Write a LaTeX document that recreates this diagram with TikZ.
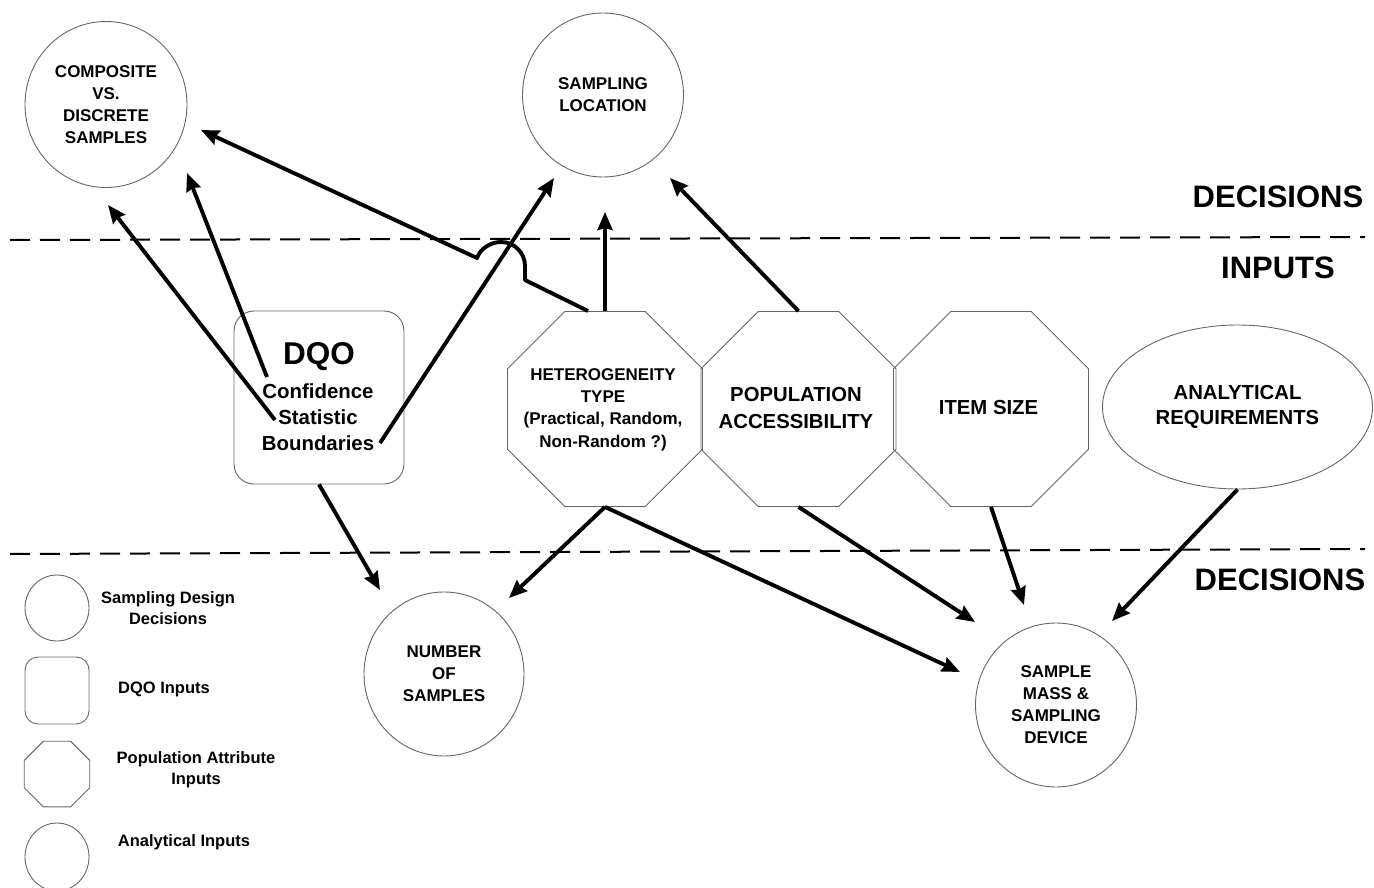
\documentclass[tikz,border=0pt]{standalone}
\usepackage{fontspec}
\setmainfont{Liberation Sans}
\usetikzlibrary{shapes.geometric,arrows.meta}
\begin{document}
\begin{tikzpicture}[x=1pt,y=-1pt,
  outl/.style={draw=black!60,line width=0.9pt},
  dec/.style={outl,ellipse,inner sep=0pt,align=center,font=\fontsize{17}{22}\selectfont\bfseries},
  inp/.style={outl,ellipse,inner sep=0pt,align=center,font=\fontsize{20.3}{25}\selectfont\bfseries},
  oct/.style={outl,regular polygon,regular polygon sides=8,inner sep=0pt,minimum size=211pt},
  octtxt/.style={align=center,inner sep=0pt},
  lgtxt/.style={align=center,inner sep=0pt,font=\fontsize{16.5}{21}\selectfont\bfseries},
  zone/.style={font=\fontsize{31}{34}\selectfont\bfseries,inner sep=0pt},
  arr/.style={-{Stealth[length=18pt,width=15pt,inset=2pt]},line width=3.9pt,line join=round},
  divider/.style={line width=2pt,dash pattern=on 20pt off 10pt}
]
\useasboundingbox (0,0) rectangle (1374,888);
\clip (0,0) rectangle (1374,888);

% dividers
\coordinate (d1a) at (10,240); \coordinate (d1b) at (1365,237);
\coordinate (d2a) at (10,554); \coordinate (d2b) at (1365,549);
\draw[divider] (d1a) -- (d1b);
\draw[divider] (d2a) -- (d2b);

% zone labels
\node[zone] (decTop) at (1278,197) {DECISIONS};
\node[zone] (inpLbl) at (1278,268) {INPUTS};
\node[zone] (decBot) at (1280,580) {DECISIONS};

% decision nodes
\node[dec,minimum width=162pt,minimum height=166pt] (comp) at (106,104.5) {COMPOSITE\\VS.\\DISCRETE\\SAMPLES};
\node[dec,minimum width=161pt,minimum height=164pt] (loc) at (603,95) {SAMPLING\\LOCATION};
\node[dec,minimum width=160pt,minimum height=164pt] (num) at (444,674) {NUMBER\\OF\\SAMPLES};
\node[dec,minimum width=161pt,minimum height=164pt] (mass) at (1056,705) {SAMPLE\\MASS \&\\SAMPLING\\DEVICE};

% analytical input
\node[inp,minimum width=270pt,minimum height=164pt] (anal) at (1237.5,407) {ANALYTICAL\\REQUIREMENTS};

% DQO input
\node[outl,rounded corners=20pt,minimum width=170pt,minimum height=173pt] (dqo) at (319,397.5) {};
\node[font=\fontsize{31.5}{34}\selectfont\bfseries,inner sep=0pt] (dqoH) at (319,357) {DQO};
\node[align=center,inner sep=0pt,font=\fontsize{20.4}{26}\selectfont\bfseries] (dqoL) at (318,417) {Confidence\\Statistic\\Boundaries};

% population attribute inputs
\node[oct] (het) at (605,409) {};
\node[oct] (pop) at (798.5,409) {};
\node[oct] (item) at (991,409) {};
\node[octtxt,font=\fontsize{17}{22.3}\selectfont\bfseries] (hetT) at (603,409.5) {HETEROGENEITY\\TYPE\\(Practical, Random,\\Non-Random ?)};
\node[octtxt,font=\fontsize{20.3}{27}\selectfont\bfseries] (popT) at (796,408.5) {POPULATION\\ACCESSIBILITY};
\node[octtxt,font=\fontsize{20.3}{27}\selectfont\bfseries] (itemT) at (988.5,408) {ITEM SIZE};

% legend
\node[outl,ellipse,minimum width=64pt,minimum height=66pt,inner sep=0pt] (lgDec) at (57,608) {};
\node[lgtxt] (lgDecT) at (168,608.5) {Sampling Design\\Decisions};
\node[outl,rounded corners=13pt,minimum width=64pt,minimum height=67pt,inner sep=0pt] (lgDqo) at (57,690.5) {};
\node[lgtxt] (lgDqoT) at (164,689) {DQO Inputs};
\node[outl,regular polygon,regular polygon sides=8,minimum size=71pt,inner sep=0pt] (lgPop) at (57,774) {};
\node[lgtxt] (lgPopT) at (196,769.5) {Population Attribute\\Inputs};
\node[outl,ellipse,minimum width=64pt,minimum height=68pt,inner sep=0pt] (lgAna) at (57,857) {};
\node[lgtxt] (lgAnaT) at (184,842) {Analytical Inputs};

% connector end points
\coordinate (tC1) at (108,205);
\coordinate (tC2) at (187,173);
\coordinate (tC3) at (201,130);
\coordinate (tL1) at (554,178);
\coordinate (tL2) at (605,212);
\coordinate (tL3) at (670,178);
\coordinate (tN1) at (380,590);
\coordinate (tN2) at (509,598);
\coordinate (tM1) at (960,672);
\coordinate (tM2) at (975,622);
\coordinate (tM3) at (1024,605);
\coordinate (tM4) at (1112,621);
\coordinate (sConf) at (267,377);
\coordinate (sStat) at (275,420);
\coordinate (sBound) at (380,443);
\coordinate (sHet) at (588,311);
\coordinate (jR) at (525,280);
\coordinate (jL) at (477,258);

% connectors
\draw[arr] (sStat) -- (tC1);
\draw[arr] (sConf) -- (tC2);
\draw[arr] (sHet) -- (jR) -- (525,266) .. controls (525,252.75) and (514.25,242) .. (501,242) .. controls (490.8,242) and (480.3,248.4) .. (jL) -- (tC3);
\draw[arr] (sBound) -- (tL1);
\draw[arr] (het.north) -- (tL2);
\draw[arr] (pop.north) -- (tL3);
\draw[arr] (dqo.south) -- (tN1);
\draw[arr] (het.south) -- (tN2);
\draw[arr] (het.south) -- (tM1);
\draw[arr] (pop.south) -- (tM2);
\draw[arr] (item.south) -- (tM3);
\draw[arr] (anal.south) -- (tM4);
\end{tikzpicture}
\end{document}
